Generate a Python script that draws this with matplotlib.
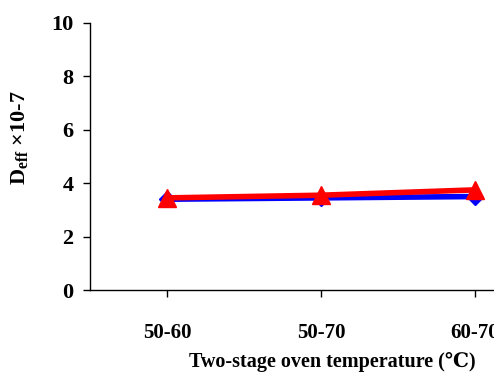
import matplotlib
matplotlib.use("Agg")
import matplotlib.pyplot as plt

# data
categories = ["50-60", "50-70", "60-70"]
blue_vals = [3.40, 3.45, 3.50]
red_vals = [3.45, 3.55, 3.75]
y_ticks = [0, 2, 4, 6, 8, 10]

plt.rcParams["font.family"] = ["Liberation Serif", "DejaVu Serif"]
plt.rcParams["font.weight"] = "bold"
plt.rcParams["mathtext.fontset"] = "custom"
plt.rcParams["mathtext.rm"] = "Liberation Serif:bold"
plt.rcParams["mathtext.bf"] = "Liberation Serif:bold"

W, H = 494, 377
fig = plt.figure(figsize=(W / 100, H / 100), dpi=100)
ax = fig.add_axes([90 / W, (H - 290) / H, 462 / W, 267 / H])

x = list(range(len(categories)))
ax.plot(x, blue_vals, color="#0000ff", lw=4, marker="D", ms=8, zorder=3, clip_on=False)
ax.plot(x, red_vals, color="#ff0000", lw=4, marker="^", ms=13, zorder=4, clip_on=False)

ax.set_xlim(-0.5, 2.5)
ax.set_ylim(0, 10)
ax.set_yticks(y_ticks)
ax.set_xticks(x)
ax.set_xticklabels(categories)
ax.tick_params(axis="y", labelsize=16, length=5, width=1, pad=7)
ax.tick_params(axis="x", labelsize=15, length=5, width=1, pad=19)
for s in ["top", "right"]:
    ax.spines[s].set_visible(False)
for s in ["left", "bottom"]:
    ax.spines[s].set_linewidth(1)

ax.set_xlabel("Two-stage oven temperature (\u2103)", fontsize=14.5, fontweight="bold", labelpad=10)
ax.xaxis.set_label_coords((332 - 90) / 462, -0.27)
ax.xaxis.label.set_va("center")
fig.text(20 / W, 1 - 138 / H, "$\\mathrm{D}_{\\mathrm{eff}}$ \u00d710-7",
         rotation=90, fontsize=16, ha="center", va="center")

fig.savefig("out.png", dpi=100)
